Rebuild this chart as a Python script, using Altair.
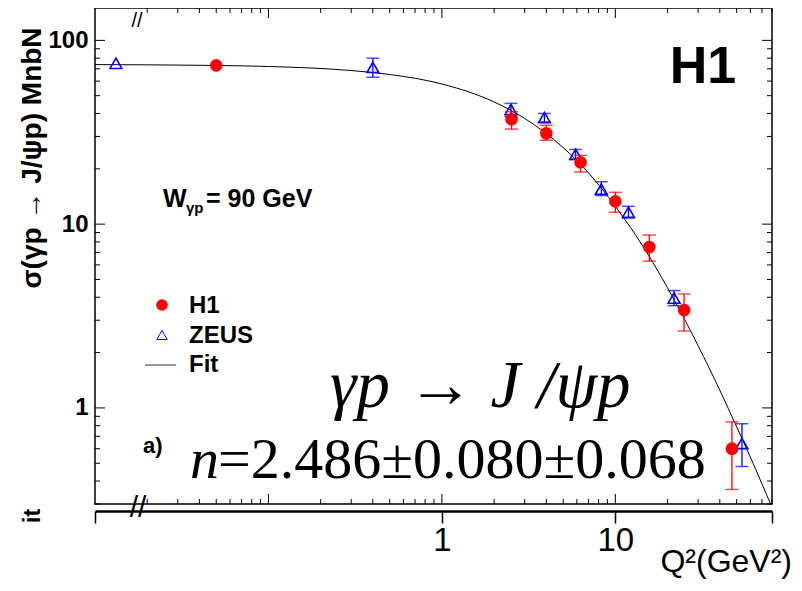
"""
J/psi elastic cross section versus Q^2 (H1 / ZEUS) with fit curve.
"""

import altair as alt
import pandas as pd

# H1 points (the Q^2 = 0 point is drawn at 0.05)
h1_q2 = [0.05, 2.52, 4.0, 6.3, 10.0, 15.7, 24.9, 47.0]
h1_sig = [73.1, 37.2, 31.2, 21.7, 13.3, 7.5, 3.41, 0.60]
h1_lo = [73.1, 32.9, 28.6, 19.2, 11.6, 6.29, 2.62, 0.36]
h1_hi = [73.1, 40.9, 34.5, 23.7, 14.9, 8.72, 4.17, 0.84]

# ZEUS points (the Q^2 = 0 point is drawn at 0.0132)
zeus_q2 = [0.0132, 0.40, 2.5, 3.9, 5.9, 8.3, 11.9, 21.8, 53.7]
zeus_sig = [75.0, 71.3, 42.0, 38.0, 24.0, 15.5, 11.6, 3.96, 0.64]
zeus_lo = [75.0, 63.0, 38.5, 36.0, 22.5, 14.3, 10.8, 3.6, 0.48]
zeus_hi = [75.0, 80.0, 45.4, 40.0, 25.5, 17.0, 12.5, 4.35, 0.82]

# fit curve
fit_q2 = [0.01, 0.05, 0.1, 0.3, 0.5, 1, 2, 3, 5, 7, 10, 15, 20, 30, 40, 50, 60, 80]
fit_sig = [73.8, 73.0, 72.1, 68.5, 65.2, 57.9, 46.2, 37.6, 26.1, 19.0, 12.5,
           7.14, 4.50, 2.18, 1.25, 0.79, 0.54, 0.287]

x_major = [0.1, 1, 10]
x_minor = [0.02, 0.03, 0.04, 0.05, 0.06, 0.07, 0.08, 0.09,
           0.2, 0.3, 0.4, 0.5, 0.6, 0.7, 0.8, 0.9,
           2, 3, 4, 5, 6, 7, 8, 9, 20, 30, 40, 50, 60, 70, 80]
y_major = [1, 10, 100]
y_minor = [0.3, 0.4, 0.5, 0.6, 0.7, 0.8, 0.9, 2, 3, 4, 5, 6, 7, 8, 9,
           20, 30, 40, 50, 60, 70, 80, 90]

W, H = 677, 496
SANS = "Liberation Sans"
SERIF = "Liberation Serif"

xs = alt.Scale(type="log", domain=[0.01, 80], nice=False)
ys = alt.Scale(type="log", domain=[0.3, 150], nice=False)


def frame_ticks(values, side, length):
    """Inward pointing ticks on one side of the frame."""
    base = alt.Chart(pd.DataFrame({"v": values})).mark_rule(color="black", strokeWidth=1)
    if side in ("top", "bottom"):
        y0 = 0 if side == "top" else H
        y1 = length if side == "top" else H - length
        return base.encode(x=alt.X("v:Q", scale=xs, axis=None),
                           y=alt.value(y0), y2=alt.value(y1))
    x0 = 0 if side == "left" else W
    x1 = length if side == "left" else W - length
    return base.encode(y=alt.Y("v:Q", scale=ys, axis=None),
                       x=alt.value(x0), x2=alt.value(x1))


def label(text, x, y, size, weight="normal", font=SANS, style="normal",
          align="left", baseline="alphabetic", angle=0):
    return alt.Chart(pd.DataFrame({"t": [text]})).mark_text(
        text=text, font=font, fontSize=size, fontWeight=weight, fontStyle=style,
        align=align, baseline=baseline, angle=angle, color="black"
    ).encode(x=alt.value(x), y=alt.value(y))


h1 = pd.DataFrame({"q2": h1_q2, "sig": h1_sig, "lo": h1_lo, "hi": h1_hi})
zeus = pd.DataFrame({"q2": zeus_q2, "sig": zeus_sig, "lo": zeus_lo, "hi": zeus_hi})
fit = pd.DataFrame({"q2": fit_q2, "sig": fit_sig})

bottom_axis = alt.Axis(orient="bottom", offset=7, values=[0.01, 1, 10, 80],
                       labelExpr="datum.value == 1 ? '1' : datum.value == 10 ? '10' : ''",
                       tickSize=12, tickWidth=1.5, tickColor="black",
                       domainWidth=2.5, domainColor="black", labelFont=SANS,
                       labelFontSize=33, labelColor="black", labelPadding=1,
                       labelFlush=False, labelOverlap=False, grid=False, title=None)
left_axis = alt.Axis(orient="left", values=y_major, labelExpr="datum.value + ''",
                     ticks=False, domain=False, grid=False, title=None,
                     labelFont=SANS, labelFontSize=24, labelFontWeight="bold",
                     labelColor="black", labelPadding=7)

fit_line = alt.Chart(fit).mark_line(color="black", strokeWidth=1,
                                    interpolate="monotone", clip=True).encode(
    x=alt.X("q2:Q", scale=xs, axis=bottom_axis),
    y=alt.Y("sig:Q", scale=ys, axis=left_axis),
)


def error_bars(df, color):
    df = df[df["hi"] > df["lo"]]
    base = alt.Chart(df)
    x = alt.X("q2:Q", scale=xs, axis=None)
    bar = base.mark_rule(color=color, strokeWidth=1.3).encode(
        x=x, y=alt.Y("lo:Q", scale=ys, axis=None), y2="hi:Q")
    lo = base.mark_tick(color=color, orient="horizontal", size=13, thickness=1.5).encode(
        x=x, y=alt.Y("lo:Q", scale=ys, axis=None))
    hi = base.mark_tick(color=color, orient="horizontal", size=13, thickness=1.5).encode(
        x=x, y=alt.Y("hi:Q", scale=ys, axis=None))
    return bar + lo + hi


zeus_points = alt.Chart(zeus).mark_point(shape="triangle-up", filled=False, color="blue",
                                         size=140, strokeWidth=1.6, opacity=1).encode(
    x=alt.X("q2:Q", scale=xs, axis=None),
    y=alt.Y("sig:Q", scale=ys, axis=None),
)
h1_points = alt.Chart(h1).mark_circle(color="red", size=160, opacity=1).encode(
    x=alt.X("q2:Q", scale=xs, axis=None),
    y=alt.Y("sig:Q", scale=ys, axis=None),
)

ticks = (
    frame_ticks(x_major, "top", 10) + frame_ticks(x_minor, "top", 5)
    + frame_ticks(x_major, "bottom", 10) + frame_ticks(x_minor, "bottom", 5)
    + frame_ticks(y_major, "left", 10) + frame_ticks(y_minor, "left", 5)
    + frame_ticks(y_major, "right", 10) + frame_ticks(y_minor, "right", 5)
)

one = pd.DataFrame({"a": [0]})
legend = (
    alt.Chart(one).mark_circle(color="red", size=135, opacity=1).encode(
        x=alt.value(67), y=alt.value(297))
    + alt.Chart(one).mark_point(shape="triangle-up", color="blue", size=110,
                                strokeWidth=1, opacity=1).encode(
        x=alt.value(67), y=alt.value(327))
    + alt.Chart(one).mark_rule(color="#777777", strokeWidth=1.5).encode(
        x=alt.value(50), x2=alt.value(81), y=alt.value(357))
    + label("H1", 94, 298, 24, "bold", baseline="middle")
    + label("ZEUS", 94, 328, 24, "bold", baseline="middle")
    + label("Fit", 94, 357, 24, "bold", baseline="middle")
)

texts = (
    label("H1", 608, 75, 52, "bold", align="center")
    + label("W", 68, 199, 25, "bold")
    + label("γp", 91, 205, 15, "bold")
    + label("= 90 GeV", 111, 199, 25, "bold")
    + label("a)", 48, 445, 22, "bold")
    + label("γp → J /ψp", 235, 399, 67, font=SERIF, style="italic")
    + label("n", 95, 470, 58, font=SERIF, style="italic")
    + label("=2.486±0.080±0.068", 123, 470, 58, font=SERIF)
    + label("σ(γp → J/ψp) MnbN", -62, 150, 28, "bold", align="center",
            baseline="middle", angle=270)
    + label("it", -62, 508, 24, "bold", align="center", baseline="middle", angle=270)
    + label("Q²(GeV²)", 697, 564, 32, align="right")
    + label("//", 42, 3, 20, align="center", baseline="top")
    + label("//", 43, 500, 30, align="center", baseline="middle")
)

chart = alt.layer(
    fit_line, ticks, error_bars(zeus, "blue"), zeus_points, error_bars(h1, "red"),
    h1_points, legend, texts
).resolve_axis(
    x="independent", y="independent"
).properties(
    width=W, height=H,
    padding={"left": 87, "top": 0, "right": 22, "bottom": 79},
    autosize=alt.AutoSizeParams(type="none"),
    background="white",
).configure_view(stroke="black", strokeWidth=1.5)

chart.save("out.html", embed_options={"renderer": "svg", "actions": False})
